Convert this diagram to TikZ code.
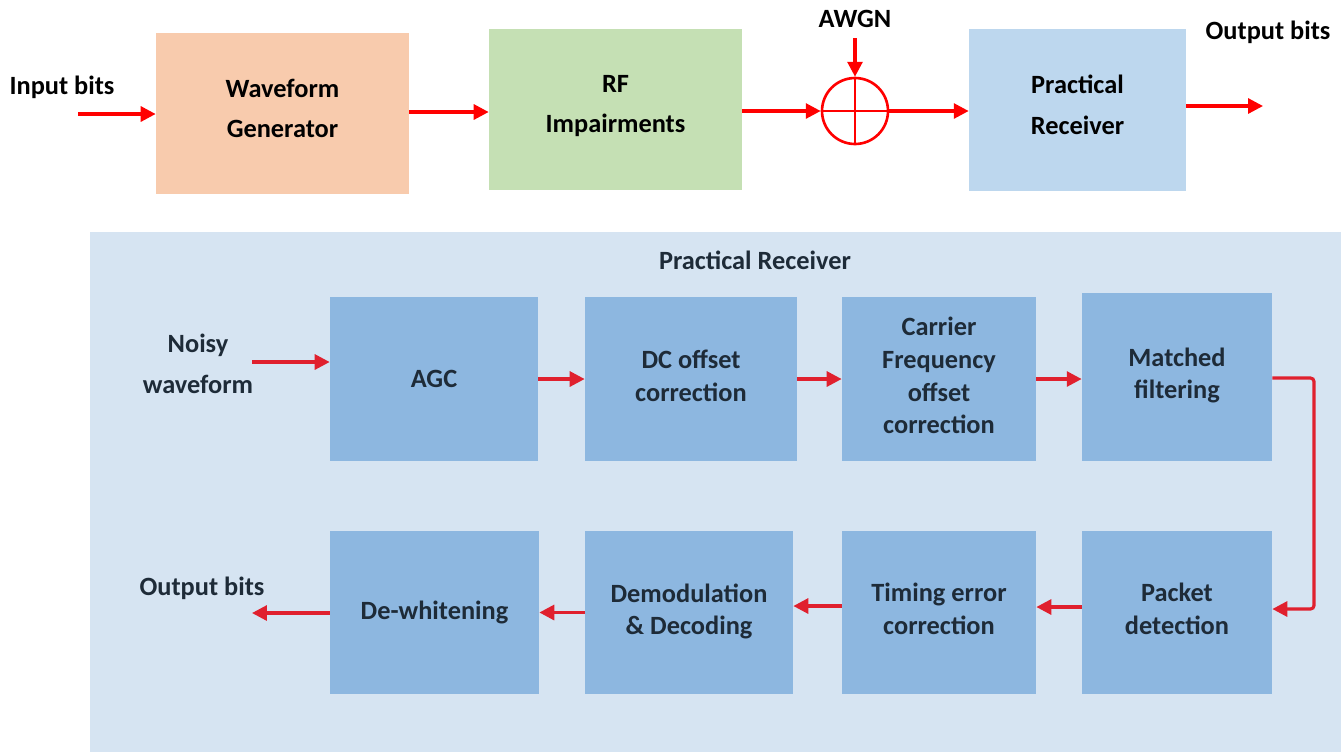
\documentclass[tikz,border=0pt]{standalone}
\usepackage{fontspec}
\setmainfont{Carlito}
\usepackage{tikz}
\usetikzlibrary{arrows.meta}

\definecolor{peach}{HTML}{F8CBAD}
\definecolor{leaf}{HTML}{C5E0B4}
\definecolor{sky}{HTML}{BDD7EE}
\definecolor{panel}{HTML}{D6E4F2}
\definecolor{blk}{HTML}{8DB7E0}
\definecolor{ink}{HTML}{1E2B38}
\definecolor{wire}{HTML}{E0202E}

\begin{document}
\begin{tikzpicture}[x=0.02cm, y=-0.02cm,
    every node/.style={font=\bfseries\fontsize{15}{19}\selectfont, align=center},
    topbox/.style={minimum width=5.06cm, minimum height=3.22cm, inner sep=0pt, text depth=6pt},
    rxbox/.style={fill=blk, text=ink, minimum height=3.28cm, inner sep=0pt,
                  font=\bfseries\fontsize{15}{18.5}\selectfont},
    lifted/.style={text depth=4pt},
    redarrow/.style={-{Triangle[length=8.5pt,width=8.5pt]}, line width=1.8pt, red},
    rxarrow/.style={-{Triangle[length=8.5pt,width=8.5pt]}, line width=1.8pt, wire}]

  % ====== 1) frame ======
  \useasboundingbox (0,0) rectangle (1341,752);

  % ====== 2) top chain ======
  \node (inbits) at (62,87) {Input bits};
  \coordinate (inlead) at (78,114);
  \node[topbox, fill=peach] (wave) at (282.5,113.5) {Waveform\\[4pt]Generator};
  \node[topbox, fill=leaf] (rf) at (615.5,109.5) {RF\\[4pt]Impairments};
  \node[circle, draw=red, line width=1.5pt, minimum size=1.32cm, inner sep=0pt] (sum) at (855,111) {};
  \draw[red, line width=1.5pt] (sum.north) -- (sum.south) (sum.west) -- (sum.east);
  \node (awgn) at (855,19) {AWGN};
  \coordinate (awgnlead) at (855,38);
  \node[topbox, fill=sky, minimum width=4.34cm, minimum height=3.24cm] (prx) at (1077.5,110) {Practical\\[4pt]Receiver};
  \coordinate (outlead) at (1263,106);
  \node (outbits) at (1268,32) {Output bits};

  \draw[redarrow] (inlead) -- (wave.west |- inlead);
  \draw[redarrow] (wave.east |- 0,112) -- (rf.west |- 0,112);
  \draw[redarrow] (rf.east |- sum.west) -- (sum.west);
  \draw[redarrow] (awgnlead) -- (sum.north);
  \draw[redarrow] (sum.east) -- (prx.west |- sum.east);
  \draw[redarrow] (prx.east |- outlead) -- (outlead);

  % ====== 3) receiver panel ======
  \fill[panel] (90,232) rectangle (1341,752);
  \node[text=ink] (title) at (755,260) {Practical Receiver};

  % ====== 4) receiver blocks, first row ======
  \node[rxbox, minimum width=4.16cm] (agc) at (434,379) {AGC};
  \node[rxbox, lifted, minimum width=4.24cm] (dc) at (691,379) {DC offset\\correction};
  \node[rxbox, lifted, minimum width=3.88cm] (cfo) at (939,379) {Carrier\\Frequency\\offset\\correction};
  \node[rxbox, lifted, minimum width=3.8cm, minimum height=3.36cm] (mf) at (1177,377) {Matched\\filtering};

  % ====== 5) receiver blocks, second row ======
  \node[rxbox, minimum width=4.18cm, minimum height=3.26cm] (dw) at (434.5,612.5) {De-whitening};
  \node[rxbox, lifted, minimum width=4.16cm, minimum height=3.26cm] (dem) at (689,612.5) {Demodulation\\\& Decoding};
  \node[rxbox, lifted, minimum width=3.88cm, minimum height=3.26cm] (ted) at (939,612.5) {Timing error\\correction};
  \node[rxbox, lifted, minimum width=3.8cm, minimum height=3.26cm] (pkt) at (1177,612.5) {Packet\\detection};

  % ====== 6) side labels ======
  \node[text=ink] (noisy) at (198,364) {Noisy\\[4pt]waveform};
  \coordinate (noisylead) at (252,362);
  \node[text=ink] (rxout) at (202,588) {Output bits};
  \coordinate (rxoutlead) at (252,613);
  \coordinate (bend) at (1314,378);

  % ====== 7) receiver connectors ======
  \draw[rxarrow] (noisylead) -- (agc.west |- noisylead);
  \draw[rxarrow] (agc.east) -- (dc.west |- agc.east);
  \draw[rxarrow] (dc.east) -- (cfo.west |- dc.east);
  \draw[rxarrow] (cfo.east) -- (mf.west |- cfo.east);
  \draw[rxarrow, rounded corners=2pt] (mf.east |- bend) -- (bend) |- (pkt.east |- 0,609);
  \draw[rxarrow] (pkt.west |- 0,607) -- (ted.east |- 0,607);
  \draw[rxarrow] (ted.west |- 0,606) -- (dem.east |- 0,606);
  \draw[rxarrow] (dem.west) -- (dw.east |- dem.west);
  \draw[rxarrow] (dw.west |- rxoutlead) -- (rxoutlead);

\end{tikzpicture}
\end{document}
